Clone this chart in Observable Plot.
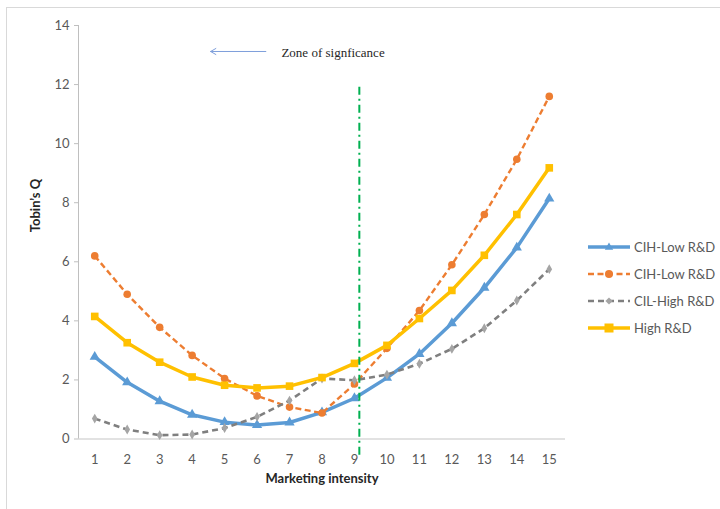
<!DOCTYPE html>
<html><head><meta charset="utf-8">
<script src="https://cdn.jsdelivr.net/npm/d3@7"></script>
<script src="https://cdn.jsdelivr.net/npm/@observablehq/plot@0.6"></script>
<style>
body{margin:0;background:#fff;}
#wrap{position:relative;width:720px;height:509px;overflow:hidden;font-family:Lato,"Open Sans",sans-serif;background:#fff;}
#frame{position:absolute;left:6px;top:7px;width:900px;height:700px;border:1px solid #d9d9d9;box-sizing:border-box;}
#chart{position:absolute;left:0;top:0;}
#legend{position:absolute;left:586px;top:233px;font-size:13px;color:#595959;}
.item{display:flex;align-items:center;height:27px;}
.item svg{margin-right:2px;}
</style></head>
<body><div id="wrap"><div id="frame"></div><div id="chart"></div><div id="legend"></div></div>
<script>
const intensity = [1,2,3,4,5,6,7,8,9,10,11,12,13,14,15];
const seriesNames = ["CIH-Low R&D","CIH-Low R&D ","CIL-High R&D","High R&D"];
const cihLowA = [2.78,1.92,1.28,0.82,0.57,0.47,0.56,0.9,1.38,2.07,2.88,3.92,5.12,6.48,8.14];
const cihLowB = [6.2,4.9,3.78,2.83,2.05,1.46,1.08,0.88,1.86,3.07,4.35,5.9,7.6,9.47,11.6];
const cilHigh = [0.69,0.32,0.13,0.15,0.37,0.75,1.3,2.05,1.99,2.18,2.55,3.05,3.75,4.69,5.75];
const highRD = [4.15,3.26,2.6,2.1,1.82,1.73,1.79,2.08,2.56,3.17,4.08,5.03,6.22,7.6,9.18];
const yTicks = [0,2,4,6,8,10,12,14];
const colors = ["#5B9BD5","#ED7D31","#7F7F7F","#FFC000"];
const markFill = ["#5B9BD5","#ED7D31","#A5A5A5","#FFC000"];
const symbols = ["triangle","circle","diamond","square"];
const widths = [3.5,2.4,2.6,3.5];
const dashes = [null,"6,3.5","6,4",null];
const radii = [3.8,3.8,3,4.3];
const annotX = [6.75], annotY = [13.08], annotText = ["Zone of signficance"];
const arrowFrom = [6.27], arrowTo = [4.57], arrowY = [13.12];
const cutoffX = [9.15], cutoffTop = [12], cutoffBottom = [-0.55];

const allSeries = [cihLowA, cihLowB, cilHigh, highRD];
const rows = allSeries.map((vals, s) => intensity.map((x, i) => ({x, y: vals[i], s})));

const marks = [];
marks.push(Plot.ruleY([0], {stroke:"#d9d9d9", strokeWidth:1.3}));
marks.push(Plot.ruleX([0.5], {y1:0, y2:14, stroke:"#bfbfbf"}));
marks.push(Plot.axisY({ticks: yTicks, tickSize:4, tickPadding:5, stroke:"#bfbfbf", fill:"#595959", fontSize:13, label:null}));
marks.push(Plot.axisX({ticks: intensity, tickSize:0, tickPadding:16, fill:"#595959", fontSize:13, tickFormat:d=>String(d), label:null}));
marks.push(Plot.text(["Marketing intensity"], {frameAnchor:"bottom", dy:44, fontWeight:"bold", fontSize:13, fill:"#262626"}));
marks.push(Plot.text(["Tobin\u2019s Q"], {frameAnchor:"left", dx:-43, rotate:-90, fontWeight:"bold", fontSize:13, fill:"#262626"}));
rows.forEach((data, s) => {
  marks.push(Plot.line(data, {x:"x", y:"y", stroke:colors[s], strokeWidth:widths[s], strokeDasharray:dashes[s], strokeLinejoin:"round", strokeLinecap: dashes[s] ? "butt" : "round"}));
  marks.push(Plot.dot(data, {x:"x", y:"y", symbol:symbols[s], r:radii[s], fill:markFill[s], stroke:"none"}));
});
marks.push(Plot.ruleX(cutoffX, {y1:cutoffBottom[0], y2:cutoffTop[0], stroke:"#00B050", strokeWidth:2, strokeDasharray:"8,4,2,4"}));
marks.push(Plot.arrow([0], {x1:()=>arrowFrom[0], x2:()=>arrowTo[0], y1:()=>arrowY[0], y2:()=>arrowY[0], stroke:"#7F9FDB", strokeWidth:1, headLength:9, bend:0}));
marks.push(Plot.text(annotText, {x:()=>annotX[0], y:()=>annotY[0], text:d=>d, textAnchor:"start", fontFamily:"Liberation Serif, serif", fontSize:13, fill:"#262626"}));

const plot = Plot.plot({
  width:720, height:509,
  marginLeft:78, marginRight:155, marginTop:25, marginBottom:70.5,
  x:{domain:[0.5,15.5], axis:null},
  y:{domain:[0,14], axis:null},
  style:{background:"transparent", fontFamily:"Lato, 'Open Sans', sans-serif", color:"#595959", overflow:"visible"},
  marks
});
document.getElementById("chart").appendChild(plot);

const legend = document.getElementById("legend");
const sym = {
  triangle: (c) => `<path d="M0,-4.6L4.2,2.8L-4.2,2.8Z" fill="${c}"/>`,
  circle: (c) => `<circle r="4" fill="${c}"/>`,
  diamond: (c) => `<path d="M0,-3.6L3.6,0L0,3.6L-3.6,0Z" fill="${c}"/>`,
  square: (c) => `<rect x="-4.5" y="-4.5" width="9" height="9" fill="${c}"/>`
};
seriesNames.forEach((name, s) => {
  const d = document.createElement("div");
  d.className = "item";
  d.innerHTML = `<svg width="46" height="14"><line x1="2" x2="44" y1="7" y2="7" stroke="${colors[s]}" stroke-width="${widths[s]}" ${dashes[s] ? `stroke-dasharray="${dashes[s]}"` : ""}/><g transform="translate(23,7)">${sym[symbols[s]](markFill[s])}</g></svg><span>${name.trim()}</span>`;
  legend.appendChild(d);
});
</script></body></html>
